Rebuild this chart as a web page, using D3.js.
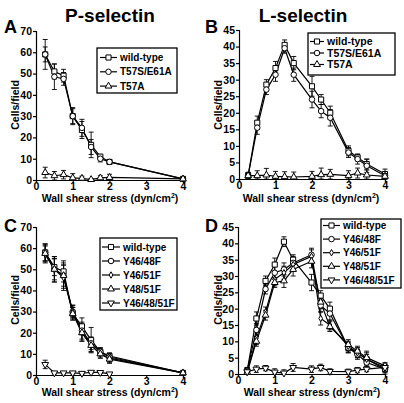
<!DOCTYPE html>
<html><head><meta charset="utf-8">
<script src="https://cdn.jsdelivr.net/npm/d3@7"></script>
<style>body{margin:0;background:#fff}svg text{font-family:"Liberation Sans",Arial,sans-serif;font-weight:bold;fill:#000}</style>
</head><body>
<script>
// ---- Data ----
const xTicks = [0, 1, 2, 3, 4];
const yTicks70 = [0, 10, 20, 30, 40, 50, 60, 70];
const yTicks45 = [0, 5, 10, 15, 20, 25, 30, 35, 40, 45];

// Panel A (P-selectin)
const xA = [0.25, 0.5, 0.75, 1, 1.25, 1.5, 1.75, 2, 4];
const aWild = [59, 51, 49, 30, 23.5, 16.5, 11, 8.5, 0.5];
const aWildErr = [7, 3.5, 3, 4, 4, 6, 1, 1, 0.5];
const aT57SE61A = [59, 48.5, 47.5, 30, 24.5, 15.5, 10, 8.5, 0.5];
const aT57SE61AErr = [3.5, 6, 3, 3.5, 4, 3.5, 1.5, 1, 0.5];
const aT57A = [3.5, 2, 2.5, 1, 0.8, 0.2, 1, 1.2, 0.5];
const aT57AErr = [2.5, 2, 2, 2, 1, 0.5, 1, 1.5, 0.5];

// Panel B (L-selectin)
const xB = [0.25, 0.5, 0.75, 1, 1.25, 1.5, 2, 2.25, 2.5, 3, 3.25, 3.5, 4];
const bWild = [1, 17, 28.5, 33.5, 40.5, 35, 28, 24, 20, 8.5, 6.5, 4.5, 1.5];
const bWildErr = [1, 2, 1.5, 2, 1.5, 2, 3, 1.5, 2, 1.5, 1, 1.5, 1.5];
const bT57SE61A = [1, 15.5, 27, 31.5, 39.5, 31.5, 24, 20.5, 18.5, 8, 6, 4, 1];
const bT57SE61AErr = [0.8, 2, 1.5, 2, 1.5, 2, 2.5, 2, 2.5, 1.5, 1.5, 2, 1];
const bT57A = [1, 1, 1.2, 0.8, 0.7, 0.6, 0.8, 1.3, 1.4, 1, 1.8, 1.2, 0.8];
const bT57AErr = [1, 1.5, 2, 1.5, 1.5, 1.5, 1.5, 2, 1.5, 1.5, 1.5, 1.5, 1];

// Panel C (P-selectin, Tyr mutants)
const xC = [0.25, 0.5, 0.75, 1, 1.25, 1.5, 1.75, 2, 4];
const xC5 = [0.25, 0.5, 0.75, 1, 1.25, 1.5, 1.75, 2];
const cWild = [58, 51, 49, 29, 23, 16.5, 11, 9, 1];
const cWildErr = [4, 4, 5, 3, 4, 6, 1.5, 1, 0.5];
const cY4648F = [58, 50, 47, 30, 21, 15, 11, 8.5, 1];
const cY4648FErr = [4, 6, 6, 3, 4, 3, 2, 2, 0.5];
const cY4651F = [57, 50, 46, 30, 20, 14, 10, 8, 1];
const cY4651FErr = [4, 6, 6, 3, 4, 3, 2, 2, 0.5];
const cY4851F = [57.5, 50, 47, 29, 20, 14, 10, 7.5, 1];
const cY4851FErr = [4, 5, 5, 3, 4, 3, 2, 2, 0.5];
const cY464851F = [5, 1, 1, 1, 0.8, 1.3, 1.2, 0.5];
const cY464851FErr = [2, 0.5, 0.5, 0.5, 0.5, 0.5, 0.5, 0.5];

// Panel D (L-selectin, Tyr mutants)
const xD = [0.25, 0.5, 0.75, 1, 1.25, 1.5, 2, 2.25, 2.5, 3, 3.25, 3.5, 4];
const dWild = [1, 17, 28.5, 33.5, 40.5, 35, 28, 24, 20, 8, 6.5, 4.5, 1.5];
const dWildErr = [1, 2, 1.5, 2, 1.5, 1.5, 2.5, 1.5, 2, 1.5, 1.5, 2, 1.5];
const dY4648F = [1, 13.5, 26, 31, 32, 34, 36.5, 21, 18.5, 8, 6, 3.5, 1.5];
const dY4648FErr = [1, 2, 1.5, 2, 2, 2, 2, 2, 2, 1.5, 1.5, 1.5, 1];
const dY4651F = [0.5, 11, 19, 29, 31, 33.5, 36, 17, 15, 8.5, 6.5, 4.5, 2];
const dY4651FErr = [0.5, 2, 1.5, 2, 2, 2, 2, 2, 1.5, 1.5, 1.5, 1.5, 1];
const dY4851F = [0.5, 10, 18, 28, 28.5, 32, 34.5, 22, 14.5, 9, 7, 5, 2.5];
const dY4851FErr = [0.5, 1.5, 1.5, 1.5, 2, 2, 2, 2, 1.5, 1.5, 1.5, 2, 1];
const dY464851F = [0.7, 1.5, 1.8, 0.6, 0.3, 2, 1.5, 2, 0.8, 0.7, 1.2, 1.5, 2];
const dY464851FErr = [1, 1, 0.8, 1, 1, 1.2, 1, 1, 0.8, 0.8, 0.8, 0.8, 1];

// ---- Drawing ----
const svg = d3.select("body").append("svg").attr("width", 404).attr("height", 403);

const shapes = {
  square: d3.symbol().type(d3.symbolSquare).size(26),
  circle: d3.symbol().type(d3.symbolCircle).size(24),
  diamond: d3.symbol().type(d3.symbolDiamond).size(12),
  triangle: d3.symbol().type(d3.symbolTriangle).size(20),
  tridown: d3.symbol().type(d3.symbolTriangle).size(20)
};

function panel(cfg) {
  const x = d3.scaleLinear().domain([0, 4]).range(cfg.xr);
  const y = d3.scaleLinear().domain([0, cfg.ymax]).range(cfg.yr);
  const g = svg.append("g");
  const ax = g.append("g").attr("transform", `translate(0,${cfg.yr[0]})`)
    .call(d3.axisBottom(x).tickValues(xTicks).tickSize(3).tickPadding(0).tickFormat(d3.format("d")));
  const ay = g.append("g").attr("transform", `translate(${cfg.xr[0]},0)`)
    .call(d3.axisLeft(y).tickValues(cfg.yticks).tickSize(3).tickPadding(1).tickFormat(d3.format("d")));
  [ax, ay].forEach(a => {
    a.selectAll("path,line").attr("stroke", "#000").attr("stroke-width", 1.2);
    a.selectAll("text").style("font-size", "10.5px").style("font-weight", "bold")
      .style("font-family", '"Liberation Sans",Arial,sans-serif').attr("fill", "#000");
  });
  cfg.series.forEach(s => {
    const pts = s.xs.map((xv, i) => ({x: xv, y: s.ys[i], e: s.err[i]}));
    g.append("path").datum(pts)
      .attr("d", d3.line().x(d => x(d.x)).y(d => y(d.y)))
      .attr("fill", "none").attr("stroke", "#000").attr("stroke-width", 1.2);
    const eb = g.append("g").attr("stroke", "#000").attr("stroke-width", 0.9);
    pts.forEach(p => {
      const top = y(p.y + p.e), bot = y(Math.max(0, p.y - p.e)), cx = x(p.x);
      eb.append("line").attr("x1", cx).attr("x2", cx).attr("y1", top).attr("y2", bot);
      eb.append("line").attr("x1", cx - 2.5).attr("x2", cx + 2.5).attr("y1", top).attr("y2", top);
      eb.append("line").attr("x1", cx - 2.5).attr("x2", cx + 2.5).attr("y1", bot).attr("y2", bot);
    });
  });
  cfg.series.forEach(s => {
    const pts = s.xs.map((xv, i) => ({x: xv, y: s.ys[i]}));
    g.selectAll(null).data(pts).enter().append("path")
      .attr("d", shapes[s.shape]())
      .attr("transform", d => `translate(${x(d.x)},${y(d.y)})` + (s.shape === "tridown" ? " rotate(180)" : ""))
      .attr("fill", "#fff").attr("stroke", "#000").attr("stroke-width", 1);
  });
  const L = cfg.legend;
  g.append("rect").attr("x", L.x).attr("y", L.y).attr("width", L.w).attr("height", L.h)
    .attr("fill", "#fff").attr("stroke", "#000").attr("stroke-width", 1.3);
  cfg.series.forEach((s, i) => {
    const yy = L.y0 + i * L.dy;
    g.append("line").attr("x1", L.lx0).attr("x2", L.lx1).attr("y1", yy).attr("y2", yy)
      .attr("stroke", "#000").attr("stroke-width", 1.2);
    g.append("path").attr("d", shapes[s.shape]())
      .attr("transform", `translate(${(L.lx0 + L.lx1) / 2},${yy})` + (s.shape === "tridown" ? " rotate(180)" : ""))
      .attr("fill", "#fff").attr("stroke", "#000").attr("stroke-width", 1);
    g.append("text").attr("x", L.tx).attr("y", yy + 3.6).style("font-size", L.fs + "px").text(s.name);
  });
  g.append("text").attr("x", cfg.xlab[0]).attr("y", cfg.xlab[1]).attr("text-anchor", "middle")
    .style("font-size", "10.5px").html('Wall shear stress (dyn/cm<tspan dy="-4" font-size="7">2</tspan><tspan dy="4">)</tspan>');
  g.append("text").attr("transform", `translate(${cfg.ylab[0]},${cfg.ylab[1]}) rotate(-90)`)
    .attr("text-anchor", "middle").style("font-size", "10.5px").text("Cells/field");
  g.append("text").attr("x", cfg.letter[0]).attr("y", cfg.letter[1]).style("font-size", "18px").text(cfg.letter[2]);
  if (cfg.title) g.append("text").attr("x", cfg.title[0]).attr("y", cfg.title[1]).attr("text-anchor", "middle")
    .style("font-size", "19px").text(cfg.title[2]);
}

panel({
  xr: [36, 183], yr: [180, 31], ymax: 70, yticks: yTicks70,
  series: [
    {name: "wild-type", shape: "square", xs: xA, ys: aWild, err: aWildErr},
    {name: "T57S/E61A", shape: "circle", xs: xA, ys: aT57SE61A, err: aT57SE61AErr},
    {name: "T57A", shape: "triangle", xs: xA, ys: aT57A, err: aT57AErr}
  ],
  legend: {x: 97, y: 48, w: 80, h: 45, y0: 57.5, dy: 14.3, lx0: 100, lx1: 117, tx: 120, fs: 10},
  xlab: [110, 202], ylab: [19, 105], letter: [4, 33, "A"], title: [110, 22, "P-selectin"]
});
panel({
  xr: [239, 385], yr: [179, 30], ymax: 45, yticks: yTicks45,
  series: [
    {name: "wild-type", shape: "square", xs: xB, ys: bWild, err: bWildErr},
    {name: "T57S/E61A", shape: "circle", xs: xB, ys: bT57SE61A, err: bT57SE61AErr},
    {name: "T57A", shape: "triangle", xs: xB, ys: bT57A, err: bT57AErr}
  ],
  legend: {x: 308, y: 33, w: 87, h: 42, y0: 41.5, dy: 11.5, lx0: 310, lx1: 324, tx: 327, fs: 10.5},
  xlab: [311, 202], ylab: [222, 105], letter: [205, 33, "B"], title: [303, 22, "L-selectin"]
});
panel({
  xr: [36, 183], yr: [375, 227], ymax: 70, yticks: yTicks70,
  series: [
    {name: "wild-type", shape: "square", xs: xC, ys: cWild, err: cWildErr},
    {name: "Y46/48F", shape: "circle", xs: xC, ys: cY4648F, err: cY4648FErr},
    {name: "Y46/51F", shape: "diamond", xs: xC, ys: cY4651F, err: cY4651FErr},
    {name: "Y48/51F", shape: "triangle", xs: xC, ys: cY4851F, err: cY4851FErr},
    {name: "Y46/48/51F", shape: "tridown", xs: xC5, ys: cY464851F, err: cY464851FErr}
  ],
  legend: {x: 100, y: 238, w: 77, h: 72, y0: 247, dy: 14, lx0: 102, lx1: 120, tx: 123, fs: 10},
  xlab: [110, 396], ylab: [19, 300], letter: [4, 232, "C"]
});
panel({
  xr: [238, 385], yr: [374, 227], ymax: 45, yticks: yTicks45,
  series: [
    {name: "wild-type", shape: "square", xs: xD, ys: dWild, err: dWildErr},
    {name: "Y46/48F", shape: "circle", xs: xD, ys: dY4648F, err: dY4648FErr},
    {name: "Y46/51F", shape: "diamond", xs: xD, ys: dY4651F, err: dY4651FErr},
    {name: "Y48/51F", shape: "triangle", xs: xD, ys: dY4851F, err: dY4851FErr},
    {name: "Y46/48/51F", shape: "tridown", xs: xD, ys: dY464851F, err: dY464851FErr}
  ],
  legend: {x: 321, y: 219, w: 80, h: 69, y0: 225.5, dy: 13.6, lx0: 323, lx1: 340, tx: 343, fs: 10},
  xlab: [312, 396], ylab: [222, 300], letter: [205, 232, "D"]
});
</script>
</body></html>
